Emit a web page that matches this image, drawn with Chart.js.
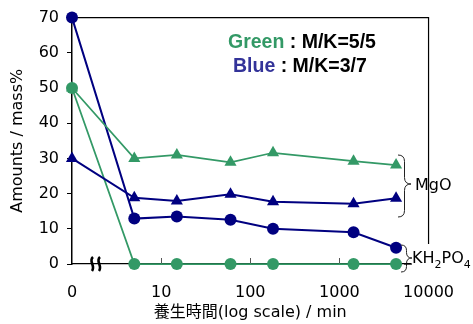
<!DOCTYPE html>
<html>
<head>
<meta charset="utf-8">
<script src="https://cdn.jsdelivr.net/npm/chart.js@4.4.1/dist/chart.umd.min.js"></script>
<style>
  html, body { margin: 0; padding: 0; background: #fff; }
  #wrap { width: 473px; height: 324px; }
</style>
</head>
<body>
<div id="wrap"><canvas id="c" width="473" height="324"></canvas></div>
<script>
// Curing time in minutes (0 sits at the left end of the log axis)
const curingMinutes = [0, 5, 15, 60, 180, 1440, 4320];

// Amounts (mass%) for M/K = 5/5
const mgoGreen    = [50, 30.0, 31.0, 28.9, 31.6, 29.2, 28.1];
const kh2po4Green = [50, 0, 0, 0, 0, 0, 0];

// Amounts (mass%) for M/K = 3/7
const mgoBlue     = [30, 18.8, 17.9, 19.8, 17.7, 17.1, 18.7];
const kh2po4Blue  = [70, 12.9, 13.5, 12.6, 10.0, 9.0, 4.6];

// Axis ticks
const xTickValues = [1, 10, 100, 1000, 10000];
const xTickLabels = ['0', '10', '100', '1000', '10000'];
const yMin = 0, yMax = 70, yStep = 10;

const GREEN = '#339966';
const BLUE = '#000080';
const FONT = "'DejaVu Sans', 'Noto Sans CJK JP', sans-serif";

// minute 0 is placed at the axis start (value 1 on the log scale)
const xPos = curingMinutes.map(m => (m === 0 ? 1 : m));
const toPoints = vals => vals.map((v, i) => ({ x: xPos[i], y: v }));

function series(data, color, shape, width) {
  return {
    data: toPoints(data),
    borderColor: color,
    backgroundColor: color,
    borderWidth: width,
    pointStyle: shape,
    pointRadius: shape === 'triangle' ? 7 : 6,
    pointBorderWidth: 0,
    pointBackgroundColor: color,
    pointBorderColor: color,
    tension: 0,
    clip: false
  };
}

function brace(ctx, x, top, bottom, tipY, w) {
  const h = w / 2;
  ctx.beginPath();
  ctx.moveTo(x, top);
  ctx.quadraticCurveTo(x + h, top, x + h, top + h);
  ctx.lineTo(x + h, tipY - h);
  ctx.quadraticCurveTo(x + h, tipY, x + w, tipY);
  ctx.quadraticCurveTo(x + h, tipY, x + h, tipY + h);
  ctx.lineTo(x + h, bottom - h);
  ctx.quadraticCurveTo(x + h, bottom, x, bottom);
  ctx.stroke();
}

const decorations = {
  id: 'decorations',
  beforeDatasetsDraw(chart) {
    const { ctx, chartArea: a, scales: { x } } = chart;
    ctx.save();
    // frame: top and right edges
    ctx.strokeStyle = '#000';
    ctx.lineWidth = 1.2;
    ctx.beginPath();
    ctx.moveTo(a.left, a.top);
    ctx.lineTo(a.right, a.top);
    ctx.lineTo(a.right, a.bottom);
    ctx.stroke();
    // inward minor ticks on the time axis
    ctx.strokeStyle = '#555';
    ctx.lineWidth = 1;
    [10, 100, 1000].forEach(v => {
      const px = Math.round(x.getPixelForValue(v)) + 0.5;
      ctx.beginPath();
      ctx.moveTo(px, a.bottom);
      ctx.lineTo(px, a.bottom - 6);
      ctx.stroke();
    });
    ctx.restore();
  },
  afterDatasetsDraw(chart) {
    const { ctx, chartArea: a } = chart;
    ctx.save();

    // axis break mark
    ctx.strokeStyle = '#000';
    ctx.lineWidth = 2.6;
    [92, 99].forEach(bx => {
      ctx.beginPath();
      ctx.moveTo(bx + 1, a.bottom - 7);
      ctx.bezierCurveTo(bx - 4, a.bottom - 3, bx + 4, a.bottom + 2, bx, a.bottom + 7);
      ctx.stroke();
    });

    // label area on the right
    ctx.fillStyle = '#fff';
    ctx.fillRect(411, 244, 62, 36);

    // braces
    ctx.strokeStyle = '#222';
    ctx.lineWidth = 1;
    brace(ctx, 398, 155, 217, 184, 13);
    brace(ctx, 401, 245, 272, 258, 11);

    // short axis end segment beside the KH2PO4 brace
    ctx.strokeStyle = '#000';
    ctx.lineWidth = 1.2;
    ctx.beginPath();
    ctx.moveTo(404, a.bottom);
    ctx.lineTo(412, a.bottom);
    ctx.stroke();

    // compound labels
    ctx.fillStyle = '#000';
    ctx.textBaseline = 'alphabetic';
    ctx.textAlign = 'left';
    ctx.font = `16px ${FONT}`;
    ctx.fillText('MgO', 415, 190);
    let tx = 412;
    const base = 263;
    const parts = [['KH', false], ['2', true], ['PO', false], ['4', true]];
    parts.forEach(([t, sub]) => {
      ctx.font = sub ? `11px ${FONT}` : `16px ${FONT}`;
      ctx.fillText(t, tx, sub ? base + 5 : base);
      tx += ctx.measureText(t).width;
    });

    // series key
    const key = (x0, y0, word, color, rest) => {
      ctx.font = `bold 19.5px 'Liberation Sans', Arial, sans-serif`;
      ctx.fillStyle = color;
      ctx.fillText(word, x0, y0);
      const w = ctx.measureText(word).width;
      ctx.fillStyle = '#000';
      ctx.fillText(rest, x0 + w, y0);
    };
    key(228, 48, 'Green', GREEN, ' : M/K=5/5');
    key(233, 72, 'Blue', '#333399', ' : M/K=3/7');

    ctx.restore();
  }
};

new Chart(document.getElementById('c'), {
  type: 'line',
  data: {
    datasets: [
      series(mgoGreen, GREEN, 'triangle', 1.75),
      series(mgoBlue, BLUE, 'triangle', 2),
      series(kh2po4Blue, BLUE, 'circle', 2),
      series(kh2po4Green, GREEN, 'circle', 1.75)
    ]
  },
  options: {
    responsive: false,
    animation: false,
    devicePixelRatio: 1,
    layout: { padding: { top: 17, right: 43, left: 0, bottom: 0 } },
    plugins: {
      legend: { display: false },
      tooltip: { enabled: false }
    },
    scales: {
      x: {
        type: 'logarithmic',
        min: 1,
        max: 10000,
        afterFit(scale) { scale.height = 60; },
        afterBuildTicks(scale) {
          scale.ticks = xTickValues.map(v => ({ value: v }));
        },
        grid: { display: false, drawTicks: false },
        border: { display: true, color: '#000', width: 1.2 },
        ticks: {
          autoSkip: false,
          maxRotation: 0,
          padding: 19,
          color: '#000',
          font: { family: FONT, size: 16 },
          callback(value) {
            const i = xTickValues.indexOf(value);
            return i >= 0 ? xTickLabels[i] : '';
          }
        },
        title: {
          display: true,
          text: '養生時間(log scale) / min',
          color: '#000',
          font: { family: FONT, size: 16 },
          padding: { top: 0, bottom: 1.5 }
        }
      },
      y: {
        min: yMin,
        max: yMax,
        afterFit(scale) { scale.width = 72; },
        grid: { display: true, drawOnChartArea: false, drawTicks: true, tickLength: 5, color: '#000' },
        border: { display: true, color: '#000', width: 1.5 },
        ticks: {
          stepSize: yStep,
          padding: 8,
          color: '#000',
          font: { family: FONT, size: 16 }
        },
        title: {
          display: true,
          text: 'Amounts / mass%',
          color: '#000',
          font: { family: FONT, size: 16 },
          padding: { top: 8, bottom: 0 }
        }
      }
    }
  },
  plugins: [decorations]
});
</script>
</body>
</html>
